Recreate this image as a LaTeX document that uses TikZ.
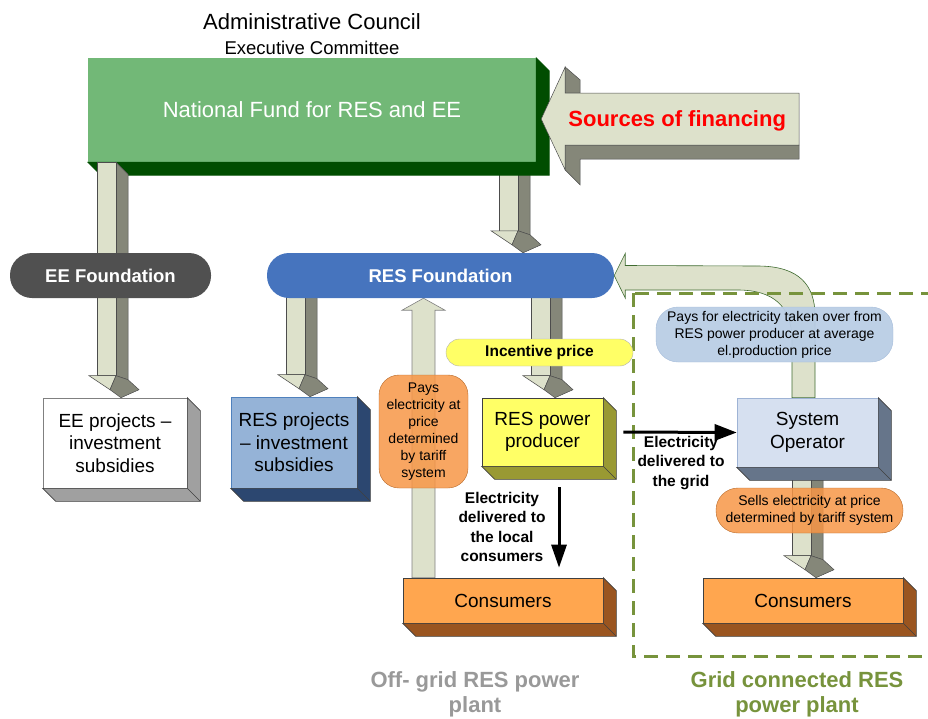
\documentclass[tikz,border=0pt]{standalone}
\usepackage{fontspec}
\setmainfont{Liberation Sans}
\usetikzlibrary{calc,arrows.meta,positioning}

\definecolor{fundgreen}{HTML}{72B877}
\definecolor{funddark}{HTML}{004D00}
\definecolor{eegrey}{HTML}{505050}
\definecolor{resblue}{HTML}{4674BE}
\definecolor{projblue}{HTML}{95B3D7}
\definecolor{projside}{HTML}{2C4770}
\definecolor{projedge}{HTML}{4F81BD}
\definecolor{prodyellow}{HTML}{FFFF66}
\definecolor{prodside}{HTML}{999933}
\definecolor{opfront}{HTML}{D6E0F0}
\definecolor{opedge}{HTML}{9EB3D5}
\definecolor{opside}{HTML}{66758A}
\definecolor{tariff}{HTML}{F79646}
\definecolor{tariffedge}{HTML}{B86A2A}
\definecolor{consfront}{HTML}{FFA64F}
\definecolor{consside}{HTML}{9A5520}
\definecolor{paysblue}{HTML}{B9CDE5}
\definecolor{paysedge}{HTML}{A6BDDA}
\definecolor{arrowlight}{HTML}{DDE1CB}
\definecolor{arrowdark}{HTML}{858779}
\definecolor{curveedge}{HTML}{3F6B30}
\definecolor{dashgreen}{HTML}{77933C}
\definecolor{offgrey}{HTML}{999999}
\definecolor{eeside}{HTML}{A0A0A0}

\pgfdeclarelayer{back}
\pgfsetlayers{back,main}

% side and bottom faces of a box node
\newcommand{\extrude}[3][black!75]{%
  \filldraw[fill=#3, draw=#1, line width=0.6pt] (#2.north east) -- ++(13,13)
    -- ($(#2.south east)+(13,13)$) -- ($(#2.south west)+(13,13)$)
    -- (#2.south west) -- (#2.south east) -- cycle;
  \draw[#1, line width=0.6pt] (#2.south east) -- ++(13,13);
}

% 3D block arrow going down: shaft x, start point, target node
\newcommand{\fatdown}[3]{%
  \coordinate (fx) at (#1,0);
  \coordinate (fs) at (fx |- #2);
  \coordinate (fh) at ($(fx |- #3.north)+(0,-22)$);
  \filldraw[fatdark] ($(fs)+(19,0)$) -- ++(12,12) -- ($(fh)+(31,4)$) -- ($(fh)+(19,0)$) -- cycle;
  \filldraw[fatlight] (fs) rectangle ($(fh)+(19,0)$);
  \filldraw[fatlight] ($(fh)+(-8,0)$) -- ($(fh)+(19,0)$) -- ($(fh)+(13,14)$) -- cycle;
  \filldraw[fatdark] ($(fh)+(13,14)$) -- ($(fh)+(19,0)$) -- ($(fh)+(31,4)$)
    -- ($(fh)+(42,14)$) -- ($(fh)+(24,22)$) -- cycle;
}

\begin{document}
\begin{tikzpicture}[x=1pt, y=-1pt,
  every node/.style={inner sep=0pt, align=center},
  f22/.style={font=\fontsize{22}{25}\selectfont},
  f19/.style={font=\fontsize{19}{22.5}\selectfont},
  f14/.style={font=\fontsize{14}{17}\selectfont},
  fnd/.style={font=\bfseries\fontsize{18.5}{22}\selectfont, text=white},
  lbl/.style={font=\bfseries\fontsize{15.5}{19.5}\selectfont},
  ttl/.style={font=\bfseries\fontsize{22}{25}\selectfont},
  slab/.style={draw=black!75, line width=0.6pt, f19},
  pill/.style={rounded corners=22pt, minimum height=45pt},
  fatlight/.style={fill=arrowlight, draw=black!70, line width=0.5pt},
  fatdark/.style={fill=arrowdark, draw=black!70, line width=0.5pt},
  bolt/.style={-{Triangle[length=22pt,width=16pt]}, line width=3pt}]

  \clip (0,0) rectangle (928,718);

  % Headings and fund
  \node[f22] (council) at (312,22) {Administrative Council};
  \node[font=\fontsize{18.5}{21}\selectfont] (committee) at (312,48) {Executive Committee};
  \node[fill=fundgreen, minimum width=448pt, minimum height=104pt, text=white, f22]
    (fund) at (312,110) {National Fund for RES and EE};
  \extrude[funddark]{fund}{funddark}

  % Sources of financing arrow
  \coordinate (st) at ($(fund.east)+(5,9)$);
  \filldraw[fatdark] ($(st)+(24,-52)$) -- ++(15,13) -- ($(st)+(39,-26)$) -- ($(st)+(24,-26)$) -- cycle;
  \filldraw[fatdark] ($(st)+(24,26)$) -- ($(st)+(258,26)$) -- ($(st)+(258,40)$) -- ($(st)+(39,40)$)
    -- ($(st)+(39,66)$) -- ($(st)+(24,51)$) -- cycle;
  \filldraw[fatlight] (st) -- ($(st)+(24,-52)$) -- ($(st)+(24,-26)$) -- ($(st)+(258,-26)$)
    -- ($(st)+(258,26)$) -- ($(st)+(24,26)$) -- ($(st)+(24,51)$) -- cycle;
  \node[font=\bfseries\fontsize{22}{25}\selectfont, text=red] (sources) at ($(st)+(136,2)$) {Sources of financing};

  % Boxes
  \node[slab, fill=white, draw=black!50, minimum width=144pt, minimum height=90pt]
    (eeproj) at (115,443) {EE projects --\\investment\\subsidies};
  \node[slab, fill=projblue, draw=projedge, minimum width=126pt, minimum height=91pt]
    (resproj) at (294,442.5) {RES projects\\-- investment\\subsidies};
  \node[slab, fill=prodyellow, minimum width=121pt, minimum height=68pt]
    (producer) at (542.5,432) {RES power\\producer};
  \node[slab, fill=opfront, draw=opedge, minimum width=141pt, minimum height=69pt]
    (sysop) at (807.5,432.5) {System\\Operator};
  \node[slab, fill=consfront, minimum width=200pt, minimum height=45pt]
    (consL) at (503,600.5) {Consumers};
  \node[slab, fill=consfront, minimum width=200pt, minimum height=45pt]
    (consR) at (803,600.5) {Consumers};
  \foreach \n/\c in {eeproj/eeside, resproj/projside, producer/prodside, sysop/opside,
                     consL/consside, consR/consside}
    \extrude{\n}{\c};

  % EE branch
  \fatdown{97}{fund.south}{eeproj}
  \node[pill, fill=eegrey, minimum width=201pt, fnd] (eefound) at (110.5,275.5) {EE Foundation};
  \node[pill, fill=resblue, minimum width=347pt, fnd] (resfound) at (440.5,275.5) {RES Foundation};

  % Labels on the flows
  \node[f14, fill=tariff, fill opacity=0.85, text opacity=1, draw=tariffedge, rounded corners=20pt,
    minimum width=89pt, minimum height=113pt] (payorange) at (423.5,431.5)
    {Pays\\electricity at\\price\\determined\\by tariff\\system};
  \node[font=\bfseries\fontsize{15.5}{18}\selectfont, fill=prodyellow, draw=black!30,
    rounded corners=13.5pt, minimum width=187pt, minimum height=27pt]
    (incentive) at (539.5,352.5) {Incentive price};
  \node[f14, fill=paysblue, fill opacity=0.95, text opacity=1, draw=paysedge, rounded corners=22pt,
    minimum width=237pt, minimum height=55pt] (paysblue) at (774.5,334.5)
    {Pays for electricity taken over from\\RES power producer at average\\el.production price};
  \node[f14, pill, fill=tariff, fill opacity=0.85, text opacity=1, draw=tariffedge,
    minimum width=187pt] (sells) at (809.5,510.5)
    {Sells electricity at price\\determined by tariff system};

  \begin{pgfonlayer}{back}
    % Payment back to RES Foundation
    \coordinate (ct) at (resfound.east);
    \coordinate (cb) at (sysop.north);
    \filldraw[fill=arrowlight, draw=curveedge, line width=0.6pt] (ct) -- ++(11,-22) -- ++(0,12)
      -- ($(cb |- ct)+(-50,-9.5)$)
      .. controls ($(cb |- ct)+(-8,-9.5)$) and ($(cb |- ct)+(7.5,10)$) .. ($(cb |- ct)+(7.5,40)$)
      -- ($(cb)+(7.5,0)$) -- ($(cb)+(-15.5,0)$) -- ($(cb |- ct)+(-15.5,65)$)
      .. controls ($(cb |- ct)+(-15.5,30)$) and ($(cb |- ct)+(-35,14.5)$) .. ($(cb |- ct)+(-70,14.5)$)
      -- ($(ct)+(11,14.5)$) -- ++(0,8) -- cycle;
    % Grid connected area
    \draw[dashgreen, line width=3pt, dash pattern=on 14pt off 8pt] (633,293) rectangle (960,656);
    % Funds flowing down
    \foreach \x/\a/\b in {499/fund.center/resfound, 286/resfound.center/resproj,
                          531/resfound.center/producer, 792/sysop.center/consR}
      \fatdown{\x}{\a}{\b};
    % Payment of local consumers
    \coordinate (ux) at (payorange.center);
    \filldraw[fill=arrowlight, draw=black!50, line width=0.6pt]
      ($(ux |- consL.north)+(-11.5,0)$) -- ($(ux |- resfound.south)+(-11.5,12)$) -- ++(-10,0)
      -- (ux |- resfound.south) -- ($(ux |- resfound.south)+(21.5,12)$) -- ++(-10,0)
      -- ($(ux |- consL.north)+(11.5,0)$) -- cycle;
  \end{pgfonlayer}

  % Electricity flows
  \draw[bolt] ([xshift=20pt]producer.east) -- (sysop.west);
  \node[lbl] (gridlbl) at (681,463) {Electricity\\delivered to\\the grid};
  \coordinate (dl) at ($(producer.south)+(16.5,21)$);
  \draw[-{Triangle[length=23pt,width=15pt]}, line width=3pt, shorten >=10pt] (dl) -- (dl |- consL.north);
  \node[lbl] (locallbl) at (502,527) {Electricity\\delivered to\\the local\\consumers};

  % Titles
  \node[ttl, text=offgrey] (offtitle) at (475,694.5) {Off- grid RES power\\plant};
  \node[ttl, text=dashgreen] (gridtitle) at (797,694.5) {Grid connected RES\\power plant};
\end{tikzpicture}
\end{document}
